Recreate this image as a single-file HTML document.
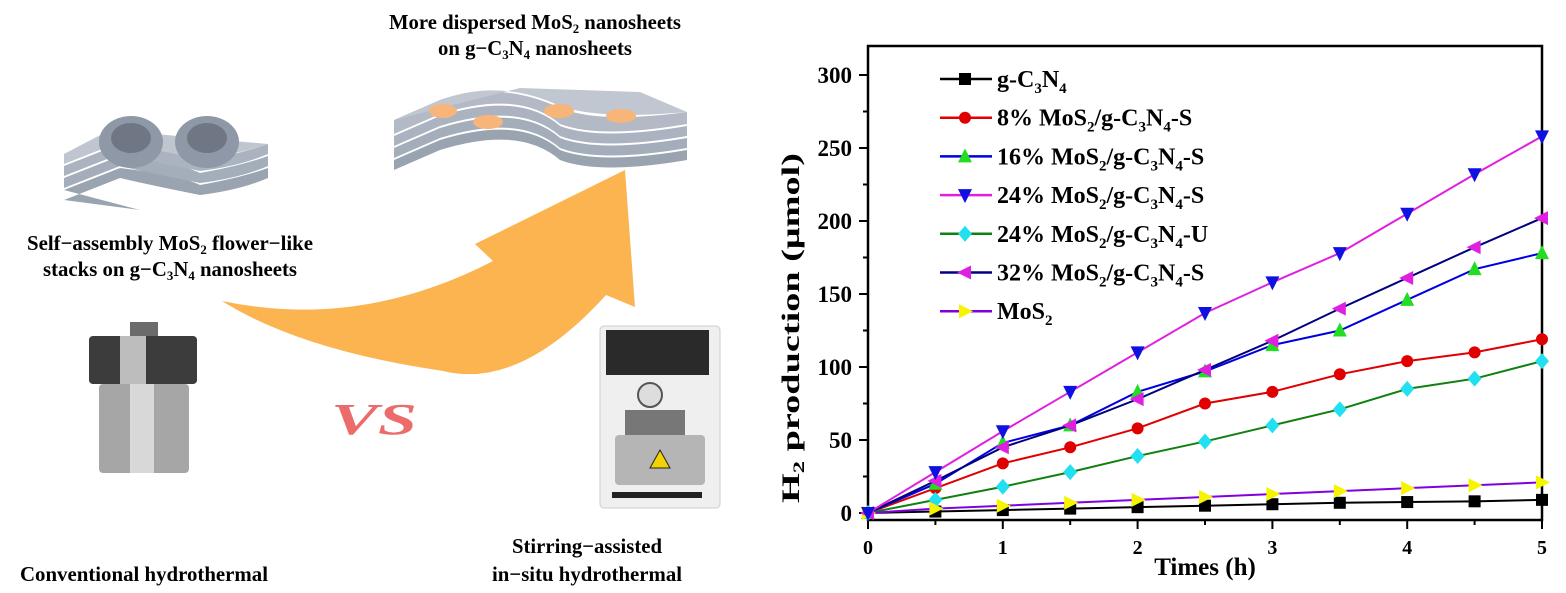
<!DOCTYPE html>
<html><head><meta charset="utf-8"><style>
html,body{margin:0;padding:0;background:#fff;}
svg{display:block;font-family:"Liberation Serif",serif;font-weight:bold;}
</style></head><body>
<svg id="fig" width="1566" height="593" viewBox="0 0 1566 593" xmlns="http://www.w3.org/2000/svg">
<g>
  <text x="535" y="29" text-anchor="middle" font-size="21" textLength="292" lengthAdjust="spacingAndGlyphs">More dispersed MoS<tspan font-size="13" dy="4">2</tspan><tspan dy="-4"> nanosheets</tspan></text>
  <text x="535" y="55" text-anchor="middle" font-size="21" textLength="194" lengthAdjust="spacingAndGlyphs">on g−C<tspan font-size="13" dy="4">3</tspan><tspan dy="-4">N</tspan><tspan font-size="13" dy="4">4</tspan><tspan dy="-4"> nanosheets</tspan></text>
  <g>
    <path d="M394,160 L440,140 Q520,115 560,150 Q600,165 687,150 L687,160 Q600,175 560,160 Q520,125 440,150 L394,170 Z" fill="#9aa3b0"/>
    <path d="M394,148 L440,128 Q520,103 560,138 Q600,153 687,138 L687,148 Q600,163 560,148 Q520,113 440,138 L394,158 Z" fill="#a4adba"/>
    <path d="M394,136 L440,116 Q520,91 560,126 Q600,141 687,126 L687,136 Q600,151 560,136 Q520,101 440,126 L394,146 Z" fill="#aab3bf"/>
    <path d="M394,120 L440,100 Q500,80 560,108 Q600,124 687,112 L687,124 Q600,139 560,124 Q520,89 440,114 L394,134 Z" fill="#b3bac5"/>
    <path d="M394,120 L520,88 L640,92 L687,112 Q600,120 560,106 Q500,78 440,100 Z" fill="#c1c7d0"/>
    <ellipse cx="443" cy="111" rx="14" ry="7" fill="#f7b57a"/>
    <ellipse cx="488" cy="122" rx="15" ry="7" fill="#f7b57a"/>
    <ellipse cx="559" cy="111" rx="15" ry="7" fill="#f7b57a"/>
    <ellipse cx="621" cy="116" rx="15" ry="7" fill="#f7b57a"/>
  </g>
  <g>
    <path d="M64,190 L120,168 Q180,175 200,185 Q240,178 268,168 L268,178 Q240,190 200,195 Q150,185 120,178 L64,200 L140,210 Z" fill="#9aa3b0"/>
    <path d="M64,178 L120,156 Q180,163 200,173 Q240,166 268,156 L268,166 Q240,178 200,183 Q150,173 120,166 L64,188 Z" fill="#a4adba"/>
    <path d="M64,166 L120,144 Q180,151 200,161 Q240,154 268,144 L268,154 Q240,166 200,171 Q150,161 120,154 L64,176 Z" fill="#aab3bf"/>
    <path d="M64,154 L110,130 L200,138 L268,144 Q240,154 200,159 Q150,149 120,142 L64,164 Z" fill="#bfc6cf"/>
    <ellipse cx="131" cy="142" rx="32" ry="26" fill="#8f98a6"/>
    <ellipse cx="207" cy="142" rx="32" ry="26" fill="#8f98a6"/>
    <ellipse cx="131" cy="138" rx="20" ry="15" fill="#6f7785"/>
    <ellipse cx="207" cy="138" rx="20" ry="15" fill="#6f7785"/>
  </g>
  <text x="170" y="250" text-anchor="middle" font-size="21" textLength="286" lengthAdjust="spacingAndGlyphs">Self−assembly MoS<tspan font-size="13" dy="4">2</tspan><tspan dy="-4"> flower−like</tspan></text>
  <text x="170" y="276" text-anchor="middle" font-size="21" textLength="254" lengthAdjust="spacingAndGlyphs">stacks on g−C<tspan font-size="13" dy="4">3</tspan><tspan dy="-4">N</tspan><tspan font-size="13" dy="4">4</tspan><tspan dy="-4"> nanosheets</tspan></text>
  <path d="M222,301 Q360,330 493,261 L475,244 L625,170 L635,307 L606,295 Q520,390 443,371 Q300,350 222,301 Z" fill="#fbb450"/>
  <g>
    <rect x="130" y="322" width="28" height="14" fill="#6b6b6b"/>
    <rect x="89" y="336" width="108" height="48" rx="4" fill="#3c3c3c"/>
    <rect x="120" y="336" width="26" height="48" fill="#bdbdbd"/>
    <rect x="99" y="384" width="90" height="89" rx="4" fill="#a6a6a6"/>
    <rect x="130" y="384" width="24" height="89" fill="#d8d8d8"/>
  </g>
  <text x="374" y="434" text-anchor="middle" font-size="44" font-style="italic" fill="#ec6b6b" textLength="86" lengthAdjust="spacingAndGlyphs">VS</text>
  <g>
    <rect x="600" y="326" width="120" height="182" rx="4" fill="#efefef" stroke="#ccc"/>
    <rect x="606" y="330" width="103" height="45" fill="#2a2a2a"/>
    <circle cx="650" cy="395" r="12" fill="#ddd" stroke="#555" stroke-width="2"/>
    <rect x="625" y="410" width="60" height="25" fill="#777"/>
    <rect x="615" y="435" width="90" height="50" rx="4" fill="#b5b5b5"/>
    <polygon points="660,450 670,468 650,468" fill="#f3d300" stroke="#222"/>
    <rect x="612" y="492" width="90" height="6" fill="#222"/>
  </g>
  <text x="20" y="581" font-size="21" textLength="248" lengthAdjust="spacingAndGlyphs">Conventional hydrothermal</text>
  <text x="587" y="553" text-anchor="middle" font-size="21" textLength="150" lengthAdjust="spacingAndGlyphs">Stirring−assisted</text>
  <text x="587" y="581" text-anchor="middle" font-size="21" textLength="190" lengthAdjust="spacingAndGlyphs">in−situ hydrothermal</text>
</g>
<g id="chart"></g>
</svg>
<script>
const times = [0,0.5,1,1.5,2,2.5,3,3.5,4,4.5,5];
const gc3n4 = [0,1,2,3,4,5,6,7,7.5,8,9];
const mos2_8S = [0,17,34,45,58,75,83,95,104,110,119];
const mos2_16S = [0,20,48,60,83,97,115,125,146,167,178];
const mos2_24S = [0,28,56,83,110,137,158,178,205,232,258];
const mos2_24U = [0,9,18,28,39,49,60,71,85,92,104];
const mos2_32S = [0,22,45,60,78,98,118,140,161,182,202];
const mos2 = [0,3,5,7,9,11,13,15,17,19,21];
const xTicks = [0,1,2,3,4,5];
const yTicks = [0,50,100,150,200,250,300];
const seriesNames = ["g-C3N4","8% S","16% S","24% S","24% U","32% S","MoS2"];

const NS="http://www.w3.org/2000/svg";
const L=868,R=1542,T=46,B=520;
const xs=v=>L+(v-0)/5*(R-L);
const ys=v=>513-v*(513-75)/300;
const g=document.getElementById('chart');
function mk(tag,attrs,parent){const e=document.createElementNS(NS,tag);for(const k in attrs)e.setAttribute(k,attrs[k]);(parent||g).appendChild(e);return e;}

const frame=mk('rect',{x:L,y:T,width:R-L,height:B-T,fill:'none',stroke:'#000','stroke-width':2.5});


xTicks.forEach(t=>{
  const ln=mk('line',{x1:xs(t),x2:xs(t),y1:B,y2:B+9,stroke:'#000','stroke-width':2});
  
  
  const tx=mk('text',{x:xs(t),y:B+34,'text-anchor':'middle','font-size':20});
  tx.textContent=t;
  
  
  if(t<5){const m=mk('line',{x1:xs(t+0.5),x2:xs(t+0.5),y1:B,y2:B+5,stroke:'#000','stroke-width':2});
  
  }
});
yTicks.forEach(t=>{
  const ln=mk('line',{x1:L-9,x2:L,y1:ys(t),y2:ys(t),stroke:'#000','stroke-width':2});
  
  
  const tx=mk('text',{x:L-16,y:ys(t)+8,'text-anchor':'end','font-size':23});
  tx.textContent=t;
  
  
  if(t<300){const m=mk('line',{x1:L-5,x2:L,y1:ys(t+25),y2:ys(t+25),stroke:'#000','stroke-width':2});
  
  }
});
const xl=mk('text',{x:1205,y:575,'text-anchor':'middle','font-size':25});
xl.textContent='Times (h)';


const yl=mk('text',{x:0,y:0,'text-anchor':'middle','font-size':25,transform:'translate(799,328) rotate(-90)',textLength:350,lengthAdjust:'spacingAndGlyphs'});
yl.innerHTML='H<tspan font-size="16" dy="5">2</tspan><tspan dy="-5"> production (μmol)</tspan>';



function marker(type,x,y,fill,p){
  const s=7;let e;
  if(type==='sq') e=mk('rect',{x:x-s+1,y:y-s+1,width:2*s-2,height:2*s-2,fill},p);
  else if(type==='ci') e=mk('circle',{cx:x,cy:y,r:s-1,fill},p);
  else if(type==='up') e=mk('polygon',{points:`${x},${y-s-1} ${x+s},${y+s-1} ${x-s},${y+s-1}`,fill},p);
  else if(type==='dn') e=mk('polygon',{points:`${x},${y+s+1} ${x+s},${y-s+1} ${x-s},${y-s+1}`,fill},p);
  else if(type==='di') e=mk('polygon',{points:`${x},${y-s-1} ${x+s},${y} ${x},${y+s+1} ${x-s},${y}`,fill},p);
  else if(type==='lf') e=mk('polygon',{points:`${x-s-1},${y} ${x+s-1},${y-s} ${x+s-1},${y+s}`,fill},p);
  else e=mk('polygon',{points:`${x+s+1},${y} ${x-s+1},${y-s} ${x-s+1},${y+s}`,fill},p);
  return e;
}
const sub=n=>`<tspan font-size="15" dy="6">${n}</tspan>`;
const tail=t=>`<tspan dy="-6">${t}</tspan>`;
const lab=p=>p+' MoS'+sub(2)+tail('/g-C')+sub(3)+tail('N')+sub(4);
const series=[
 {d:gc3n4,line:'#000',m:'sq',mf:'#000',lab:'g-C'+sub(3)+tail('N')+sub(4)},
 {d:mos2_8S,line:'#e00000',m:'ci',mf:'#e00000',lab:lab('8%')+tail('-S')},
 {d:mos2_16S,line:'#0000e0',m:'up',mf:'#22dd22',lab:lab('16%')+tail('-S')},
 {d:mos2_24S,line:'#e020e0',m:'dn',mf:'#1010e0',lab:lab('24%')+tail('-S')},
 {d:mos2_24U,line:'#108010',m:'di',mf:'#22e0f0',lab:lab('24%')+tail('-U')},
 {d:mos2_32S,line:'#000080',m:'lf',mf:'#e020e0',lab:lab('32%')+tail('-S')},
 {d:mos2,line:'#8000e0',m:'rt',mf:'#f5f500',lab:'MoS'+sub(2)}
];
const order=[0,1,2,4,6,5,3];
order.forEach(i=>{
  const s=series[i];
  const grp=mk('g',{});
  
  
  const pl=mk('polyline',{points:s.d.map((v,j)=>xs(times[j])+','+ys(v)).join(' '),fill:'none',stroke:s.line,'stroke-width':2},grp);
  
  
  s.d.forEach((v,j)=>{const m=marker(s.m,xs(times[j]),ys(v),s.mf,grp);
    
    });
});
series.forEach((s,i)=>{
  const y=79+i*38.7;
  const lg=mk('g',{});
  
  
  mk('line',{x1:940,x2:992,y1:y,y2:y,stroke:s.line,'stroke-width':2.5},lg);
  marker(s.m,965,y,s.mf,lg);
  const t=mk('text',{x:997,y:y+8,'font-size':24},lg);
  t.innerHTML=s.lab;
});
</script>
</body></html>
